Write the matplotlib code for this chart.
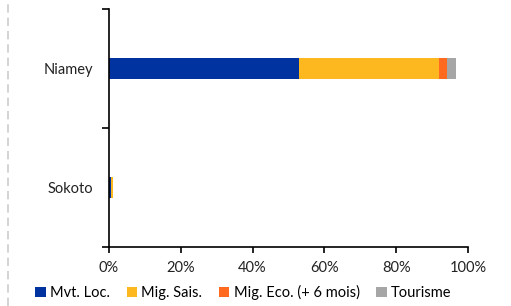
import matplotlib
matplotlib.use("Agg")
import matplotlib.pyplot as plt
from matplotlib.lines import Line2D
from matplotlib.ticker import PercentFormatter, FixedLocator

plt.rcParams['font.family'] = ['Lato', 'DejaVu Sans']

# data
cities = ['Sokoto', 'Niamey']
series = ['Mvt. Loc.', 'Mig. Sais.', 'Mig. Eco. (+ 6 mois)', 'Tourisme']
mvt_loc = [0.6, 53.0]
mig_sais = [0.6, 39.0]
mig_eco = [0.0, 2.0]
tourisme = [0.0, 2.5]
colors = ['#0033A0', '#FDB71F', '#FF6A1F', '#A6A6A6']

fig = plt.figure(figsize=(5.11, 3.06), dpi=100)
ax = fig.add_axes([0.213, 0.193, 0.703, 0.778])

y = list(range(len(cities)))
left = [0.0] * len(cities)
for name, vals, c in zip(series, [mvt_loc, mig_sais, mig_eco, tourisme], colors):
    ax.barh(y, vals, left=left, height=0.17, color=c, label=name)
    left = [l + v for l, v in zip(left, vals)]

ax.set_xlim(0, 100)
ax.set_ylim(-0.5, 1.5)
ax.xaxis.set_major_formatter(PercentFormatter(decimals=0))
ax.set_xticks([0, 20, 40, 60, 80, 100])
ax.set_yticks(y)
ax.set_yticklabels(cities)
ax.yaxis.set_minor_locator(FixedLocator([-0.5, 0.5, 1.5]))
ax.tick_params(axis='y', which='major', length=0, pad=11, labelsize=10.5, colors='#222222')
ax.tick_params(axis='y', which='minor', length=5, width=1.2, direction='out')
ax.tick_params(axis='x', length=4, width=1.2, direction='out', labelsize=10.5, pad=6,
               colors='#222222')
ax.tick_params(axis='both', color='black')
for s in ['top', 'right']:
    ax.spines[s].set_visible(False)
for s in ['left', 'bottom']:
    ax.spines[s].set_linewidth(1.2)

fig.legend(loc='lower left', bbox_to_anchor=(0.052, -0.01), ncol=4, frameon=False,
           fontsize=10.5, handlelength=0.7, handleheight=0.7, handletextpad=0.3,
           columnspacing=1.15, borderaxespad=0.2)

fig.add_artist(Line2D([8 / 511, 8 / 511], [0, 1], color='#CCCCCC', lw=1.2,
                      linestyle=(0, (5, 3))))

fig.savefig('out.png', dpi=100)
